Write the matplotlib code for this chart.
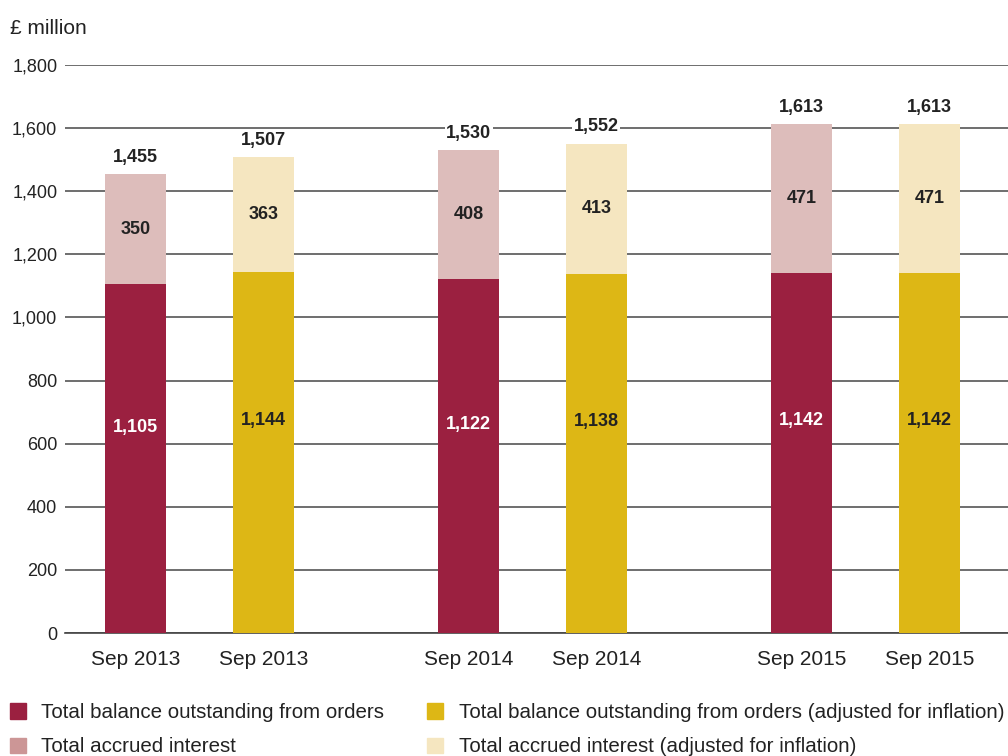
import numpy as np
import matplotlib.pyplot as plt
from matplotlib.patches import Rectangle

plt.rcParams['font.family'] = ['Liberation Sans', 'DejaVu Sans']

# data (£ million)
periods = ["Sep 2013", "Sep 2014", "Sep 2015"]
balance = [1105, 1122, 1142]
interest = [350, 408, 471]
total = [1455, 1530, 1613]
balance_adj = [1144, 1138, 1142]
interest_adj = [363, 413, 471]
total_adj = [1507, 1552, 1613]

legend_labels = ["Total balance outstanding from orders",
                 "Total accrued interest",
                 "Total balance outstanding from orders (adjusted for inflation)",
                 "Total accrued interest (adjusted for inflation)"]

red = "#9b2040"
pink = "#ddbdbb"
pink_key = "#cc9696"
gold = "#ddb715"
cream = "#f5e6c0"
txt = "#222222"


def stacked(ax, xs, base, top, tot, c_base, c_top, base_txt):
    width = 0.183
    ax.bar(xs, base, width, color=c_base, zorder=3)
    ax.bar(xs, top, width, bottom=base, color=c_top, zorder=3)
    for x, b, t, s in zip(xs, base, top, tot):
        ax.text(x, b * 0.59, f"{b:,}", ha="center", va="center",
                fontsize=13, fontweight="bold", color=base_txt, zorder=4)
        ax.text(x, b + t / 2, f"{t:,}", ha="center", va="center",
                fontsize=13, fontweight="bold", color=txt, zorder=4)
        ax.annotate(f"{s:,}", (x, b + t), xytext=(0, 12),
                    textcoords="offset points", ha="center", va="center",
                    fontsize=13, fontweight="bold", color=txt, zorder=4,
                    bbox=dict(facecolor="white", edgecolor="none", pad=1))


fig = plt.figure(figsize=(10.08, 7.56), dpi=100)
ax = fig.add_axes([65 / 1008, 1 - 633 / 756, 1 - 65 / 1008, (633 - 65) / 756])

groups = np.arange(len(periods))
off = 0.192
stacked(ax, groups - off, balance, interest, total, red, pink, "white")
stacked(ax, groups + off, balance_adj, interest_adj, total_adj, gold, cream, txt)

ax.set_xlim(-0.404, 2.428)
ax.set_ylim(0, 1800)
ax.set_yticks(np.arange(0, 1801, 200))
ax.set_yticklabels([f"{v:,}" for v in range(0, 1801, 200)])
ax.set_xticks(np.concatenate([groups - off, groups + off]))
ax.set_xticklabels(periods + periods)

ax.grid(axis="y", color="#555555", linewidth=1.2, zorder=1)
ax.set_axisbelow(True)
for side in ["top", "right", "left"]:
    ax.spines[side].set_visible(False)
ax.spines["bottom"].set_color("#444444")
ax.spines["bottom"].set_linewidth(1.2)
ax.tick_params(axis="both", length=0, colors=txt)
ax.tick_params(axis="x", pad=12, labelsize=15)
ax.tick_params(axis="y", pad=5.5, labelsize=13)

fig.text(10 / 1008, 1 - 28 / 756, "£ million", fontsize=15, color=txt,
         ha="left", va="center")

handles = [Rectangle((0, 0), 1, 1, color=c) for c in [red, pink_key, gold, cream]]
fig.legend(handles, legend_labels, ncol=2, loc="upper left",
           bbox_to_anchor=(10 / 1008, 1 - 703 / 756), frameon=False,
           fontsize=14.8, handlelength=0.78, handleheight=0.78, handletextpad=0.74,
           columnspacing=2.1, labelspacing=0.75, borderpad=0, borderaxespad=0,
           labelcolor=txt)

fig.savefig("out.png", dpi=100)
